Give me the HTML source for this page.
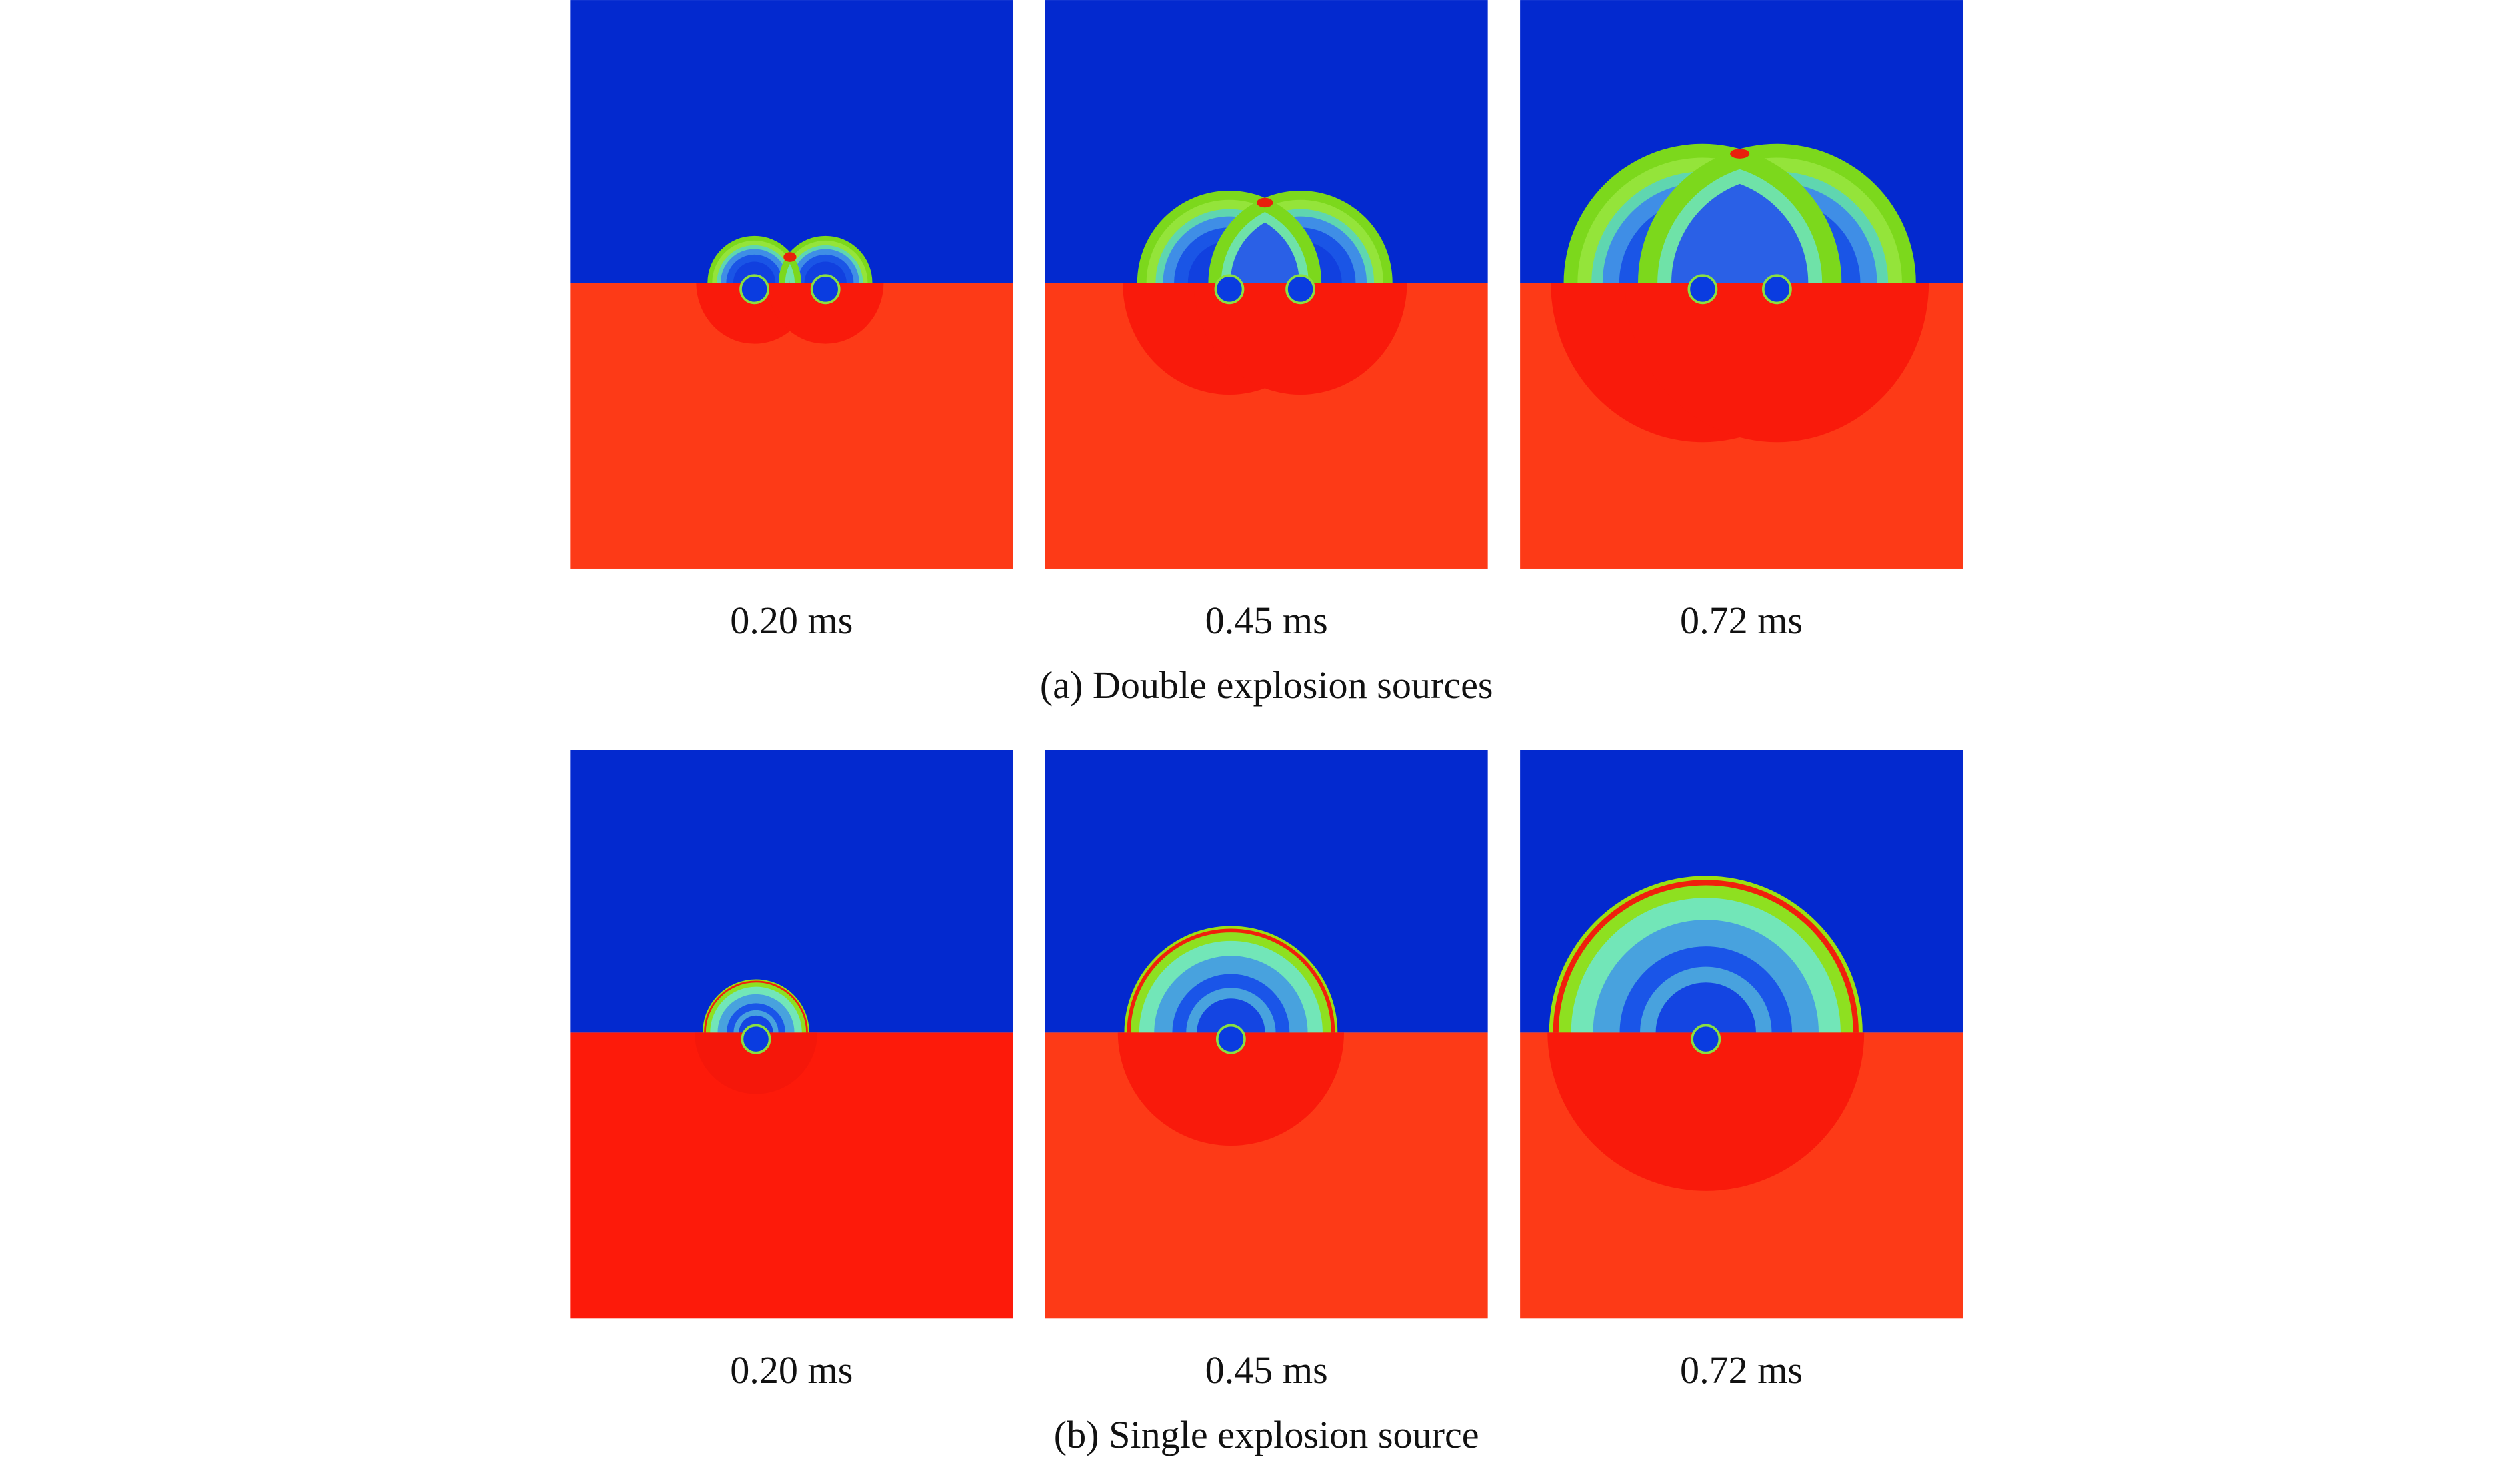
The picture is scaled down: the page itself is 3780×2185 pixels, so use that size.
<!DOCTYPE html>
<html><head><meta charset="utf-8"><style>
html,body{margin:0;padding:0;background:#fff;}
svg{display:block;}
text{font-family:"Liberation Serif",serif;fill:#111;}
</style></head><body>
<svg id="fig" width="3780" height="2185" viewBox="0 0 1560 901.7" xmlns="http://www.w3.org/2000/svg">
<defs id="defs"></defs>
<g id="panels"></g>
<text x="490" y="392" font-size="24" text-anchor="middle">0.20 ms</text>
<text x="784" y="392" font-size="24" text-anchor="middle">0.45 ms</text>
<text x="1078" y="392" font-size="24" text-anchor="middle">0.72 ms</text>
<text x="784" y="432" font-size="24" text-anchor="middle">(a) Double explosion sources</text>
<text x="490" y="856" font-size="24" text-anchor="middle">0.20 ms</text>
<text x="784" y="856" font-size="24" text-anchor="middle">0.45 ms</text>
<text x="1078" y="856" font-size="24" text-anchor="middle">0.72 ms</text>
<text x="784" y="896" font-size="24" text-anchor="middle">(b) Single explosion source</text>
</svg>
<script>
const panelX = [353, 647, 941];
const times = ["0.20", "0.45", "0.72"];
const doubleUpperR = [29, 57, 86];
const doubleLowerR = [36, 66, 94];
const doubleSep = [44, 44, 46];
const singleUpperR = [33, 66, 97];
const singleLowerR = [38, 70, 98];

const NS = "http://www.w3.org/2000/svg";
const defs = document.getElementById('defs');
const root = document.getElementById('panels');
const PW = 274, PH = 352;
let cid = 0;
function mk(tag, attrs, parent) {
  const e = document.createElementNS(NS, tag);
  for (const k in attrs) e.setAttribute(k, attrs[k]);
  parent.appendChild(e);
  return e;
}
function clipRect(x, y, w, h) {
  const id = 'c' + (cid++);
  const cp = mk('clipPath', {id: id}, defs);
  mk('rect', {x: x, y: y, width: w, height: h}, cp);
  return 'url(#' + id + ')';
}
function clipCircle(cx, cy, r) {
  const id = 'c' + (cid++);
  const cp = mk('clipPath', {id: id}, defs);
  mk('circle', {cx: cx, cy: cy, r: r}, cp);
  return 'url(#' + id + ')';
}

function drawPanel(i, top, isDouble) {
  const x0 = panelX[i];
  const iface = top + 175;
  const g = mk('g', {}, root);
  
  
  const sky = mk('rect', {x: x0, y: top, width: PW, height: 175, fill: '#0329cf'}, g);
  
  
  const soil = mk('rect', {x: x0, y: iface, width: PW, height: PH - 175, fill: isDouble ? '#fd3a17' : (i === 0 ? '#fd1a0a' : '#fd3a17')}, g);
  
  
  const upClip = clipRect(x0, top, PW, 175);
  const lowClip = clipRect(x0, iface, PW, PH - 175);
  const up = mk('g', {'clip-path': upClip}, g);
  const low = mk('g', {'clip-path': lowClip}, g);
  if (isDouble) {
    const cx = x0 + 136;
    const R = doubleUpperR[i], RL = doubleLowerR[i], d = doubleSep[i];
    const centers = [cx - d / 2, cx + d / 2];
    centers.forEach(c => {
      const w = mk('ellipse', {cx: c, cy: iface, rx: RL, ry: RL * 1.05, fill: '#f91a0b'}, low);
      
      
    });
    const layers = [[1.0, '#7cd81c'], [0.9, '#94e43a'], [0.8, '#5fd6b0'], [0.72, '#3f8ee6'], [0.6, '#1a55e6'], [0.45, '#1140df']];
    layers.forEach(([f, col]) => {
      centers.forEach(c => {
        const a = mk('circle', {cx: c, cy: iface, r: R * f, fill: col}, up);
        
        
      });
    });
    const lensLayers = [[1.0, '#7cd81c'], [0.86, '#6fe2a8'], [0.76, '#2a60e6']];
    lensLayers.forEach(([f, col]) => {
      const cl = clipCircle(centers[0], iface, R * f);
      const lg = mk('g', {'clip-path': cl}, up);
      const l = mk('circle', {cx: centers[1], cy: iface, r: R * f, fill: col}, lg);
      
      
    });
    const hy = iface - Math.sqrt(R * R - (d / 2) * (d / 2));
    const tip = mk('ellipse', {cx: cx, cy: hy + 3, rx: 4 + i, ry: 3, fill: '#e8200c'}, up);
    
    
    centers.forEach(c => {
      const h = mk('circle', {cx: c, cy: iface + 4, r: 8.5, fill: '#0a3ce0', stroke: '#8ae040', 'stroke-width': 1.5}, g);
      
      
    });
  } else {
    const cx = x0 + 115;
    const R = singleUpperR[i], RL = singleLowerR[i];
    const w = mk('circle', {cx: cx, cy: iface, r: RL, fill: i === 0 ? '#f5170a' : '#f91a0b'}, low);
    
    
    const layers = [[1.0, '#9ce010'], [0.975, '#f0200c'], [0.94, '#8ee020'], [0.86, '#72e6b8'], [0.72, '#48a2de'], [0.55, '#1a55e8'], [0.42, '#48a2de'], [0.32, '#1445e2']];
    layers.forEach(([f, col]) => {
      const a = mk('circle', {cx: cx, cy: iface, r: R * f, fill: col}, up);
      
      
    });
    const h = mk('circle', {cx: cx, cy: iface + 4, r: 8.5, fill: '#0a3ce0', stroke: '#8ae040', 'stroke-width': 1.5}, g);
    
    
  }
}
for (let i = 0; i < 3; i++) {
  drawPanel(i, 0, true);
  drawPanel(i, 464, false);
}
</script>
</body></html>
